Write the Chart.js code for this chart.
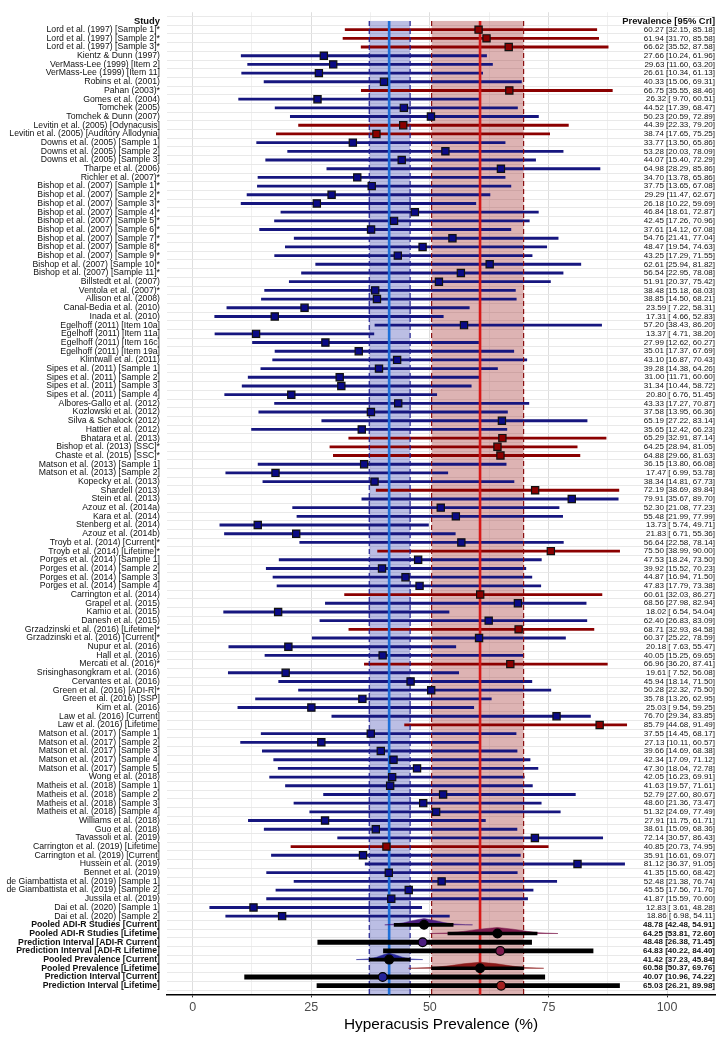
<!DOCTYPE html>
<html>
<head>
<meta charset="utf-8">
<script src="https://cdn.jsdelivr.net/npm/chart.js@4.4.1/dist/chart.umd.min.js"></script>
<style>
  html, body { margin: 0; padding: 0; background: #fff; }
  canvas { display: block; }
</style>
</head>
<body>
<canvas id="forest" width="722" height="1040"></canvas>
<script>
// study rows, top to bottom
const studies = [
  'Lord et al. (1997) [Sample 1]*', 'Lord et al. (1997) [Sample 2]*', 'Lord et al. (1997) [Sample 3]*',
  'Kientz & Dunn (1997)', 'VerMass-Lee (1999) [Item 2]', 'VerMass-Lee (1999) [Item 11]',
  'Robins et al. (2001)', 'Pahan (2003)*', 'Gomes et al. (2004)', 'Tomchek (2005)', 'Tomchek & Dunn (2007)',
  'Levitin et al. (2005) [Odynacusis]', 'Levitin et al. (2005) [Auditory Allodynia]',
  'Downs et al. (2005) [Sample 1]', 'Downs et al. (2005) [Sample 2]', 'Downs et al. (2005) [Sample 3]',
  'Tharpe et al. (2006)', 'Richler et al. (2007)*',
  'Bishop et al. (2007) [Sample 1]*', 'Bishop et al. (2007) [Sample 2]*', 'Bishop et al. (2007) [Sample 3]*',
  'Bishop et al. (2007) [Sample 4]*', 'Bishop et al. (2007) [Sample 5]*', 'Bishop et al. (2007) [Sample 6]*',
  'Bishop et al. (2007) [Sample 7]*', 'Bishop et al. (2007) [Sample 8]*', 'Bishop et al. (2007) [Sample 9]*',
  'Bishop et al. (2007) [Sample 10]*', 'Bishop et al. (2007) [Sample 11]*',
  'Billstedt et al. (2007)', 'Ventola et al. (2007)*', 'Allison et al. (2008)', 'Canal-Bedia et al. (2010)',
  'Inada et al. (2010)', 'Egelhoff (2011) [Item 10a]', 'Egelhoff (2011) [Item 11a]',
  'Egelhoff (2011) [Item 16c]', 'Egelhoff (2011) [Item 19a]', 'Klintwall et al. (2011)',
  'Sipes et al. (2011) [Sample 1]', 'Sipes et al. (2011) [Sample 2]', 'Sipes et al. (2011) [Sample 3]',
  'Sipes et al. (2011) [Sample 4]', 'Albores-Gallo et al. (2012)', 'Kozlowski et al. (2012)',
  'Silva & Schalock (2012)', 'Hattier et al. (2012)', 'Bhatara et al. (2013)',
  'Bishop et al. (2013) [SSC]*', 'Chaste et al. (2015) [SSC]*',
  'Matson et al. (2013) [Sample 1]', 'Matson et al. (2013) [Sample 2]', 'Kopecky et al. (2013)',
  'Shardell (2013)', 'Stein et al. (2013)', 'Azouz et al. (2014a)', 'Kara et al. (2014)',
  'Stenberg et al. (2014)', 'Azouz et al. (2014b)', 'Troyb et al. (2014) [Current]*',
  'Troyb et al. (2014) [Lifetime]*', 'Porges et al. (2014) [Sample 1]', 'Porges et al. (2014) [Sample 2]',
  'Porges et al. (2014) [Sample 3]', 'Porges et al. (2014) [Sample 4]', 'Carrington et al. (2014)',
  'Grapel et al. (2015)', 'Kamio et al. (2015)', 'Danesh et al. (2015)',
  'Grzadzinski et al. (2016) [Lifetime]*', 'Grzadzinski et al. (2016) [Current]*',
  'Nupur et al. (2016)', 'Hall et al. (2016)', 'Mercati et al. (2016)*', 'Srisinghasongkram et al. (2016)',
  'Cervantes et al. (2016)', 'Green et al. (2016) [ADI-R]*', 'Green et al. (2016) [SSP]',
  'Kim et al. (2016)', 'Law et al. (2016) [Current]', 'Law et al. (2016) [Lifetime]',
  'Matson et al. (2017) [Sample 1]', 'Matson et al. (2017) [Sample 2]', 'Matson et al. (2017) [Sample 3]',
  'Matson et al. (2017) [Sample 4]', 'Matson et al. (2017) [Sample 5]', 'Wong et al. (2018)',
  'Matheis et al. (2018) [Sample 1]', 'Matheis et al. (2018) [Sample 2]', 'Matheis et al. (2018) [Sample 3]',
  'Matheis et al. (2018) [Sample 4]', 'Williams et al. (2018)', 'Guo et al. (2018)',
  'Tavassoli et al. (2019)', 'Carrington et al. (2019) [Lifetime]', 'Carrington et al. (2019) [Current]',
  'Hussein et al. (2019)', 'Bennet et al. (2019)', 'de Giambattista et al. (2019) [Sample 1]',
  'de Giambattista et al. (2019) [Sample 2]', 'Jussila et al. (2019)',
  'Dai et al. (2020) [Sample 1]', 'Dai et al. (2020) [Sample 2]'
];
const estimates = [
  60.27, 61.94, 66.62, 27.66, 29.63, 26.61, 40.33, 66.75, 26.32, 44.52, 50.23, 44.39, 38.74,
  33.77, 53.28, 44.07, 64.98, 34.70, 37.75, 29.29, 26.18, 46.84, 42.45, 37.61, 54.76, 48.47,
  43.25, 62.61, 56.54, 51.91, 38.48, 38.85, 23.59, 17.31, 57.20, 13.37, 27.99, 35.01, 43.10,
  39.28, 31.00, 31.34, 20.80, 43.33, 37.58, 65.19, 35.65, 65.29, 64.25, 64.88, 36.15, 17.47,
  38.34, 72.19, 79.91, 52.30, 55.48, 13.73, 21.83, 56.64, 75.50, 47.53, 39.92, 44.87, 47.83,
  60.61, 68.56, 18.02, 62.40, 68.71, 60.37, 20.18, 40.05, 66.96, 19.61, 45.94, 50.28, 35.78,
  25.03, 76.70, 85.79, 37.55, 27.13, 39.66, 42.34, 47.30, 42.05, 41.63, 52.79, 48.60, 51.32,
  27.91, 38.61, 72.14, 40.85, 35.91, 81.12, 41.35, 52.48, 45.55, 41.87, 12.83, 18.86
];
const lowerCrI = [
  32.15, 31.70, 35.52, 10.24, 11.60, 10.34, 15.06, 35.55, 9.70, 17.39, 20.59, 22.33, 17.65,
  13.50, 20.03, 15.40, 28.29, 13.78, 13.65, 11.47, 10.22, 18.61, 17.26, 14.12, 21.41, 19.54,
  17.29, 25.94, 22.95, 20.37, 15.18, 14.50, 7.22, 4.66, 38.43, 4.71, 12.62, 17.37, 16.87,
  14.38, 11.71, 10.44, 6.76, 17.27, 13.95, 27.22, 12.42, 32.91, 28.94, 29.66, 13.80, 6.99,
  14.81, 38.69, 35.67, 21.08, 21.99, 5.74, 6.71, 22.58, 38.99, 18.24, 15.52, 16.94, 17.79,
  32.03, 27.98, 6.54, 26.83, 32.93, 25.22, 7.63, 15.25, 36.20, 7.52, 18.14, 22.32, 13.26,
  9.54, 29.34, 44.68, 14.45, 10.11, 14.69, 17.09, 18.04, 16.23, 19.57, 27.60, 21.36, 24.69,
  11.75, 15.09, 30.57, 20.73, 16.61, 36.37, 15.60, 21.38, 17.56, 15.59, 3.61, 6.98
];
const upperCrI = [
  85.18, 85.58, 87.58, 61.96, 63.20, 61.13, 69.31, 88.46, 60.51, 68.47, 72.89, 79.20, 75.25,
  65.86, 78.09, 72.29, 85.86, 65.86, 67.08, 62.67, 59.69, 72.87, 70.96, 67.08, 77.04, 74.63,
  71.55, 81.82, 78.08, 75.42, 68.03, 68.21, 58.31, 52.83, 86.20, 38.20, 60.27, 67.69, 70.43,
  64.26, 60.60, 58.72, 51.45, 70.87, 66.36, 83.14, 66.23, 87.14, 81.05, 81.63, 66.08, 53.78,
  67.73, 89.84, 89.70, 77.23, 77.99, 49.71, 55.36, 78.14, 90.00, 73.50, 70.23, 71.50, 73.38,
  86.27, 82.94, 54.04, 83.09, 84.58, 78.59, 55.47, 69.65, 87.41, 56.08, 71.50, 75.50, 62.95,
  59.25, 83.85, 91.49, 68.17, 60.57, 68.38, 71.12, 72.78, 69.91, 71.61, 80.67, 73.47, 77.49,
  61.71, 68.36, 86.43, 74.95, 69.07, 91.05, 68.42, 76.74, 71.76, 70.60, 48.28, 54.11
];
// C = current prevalence, L = lifetime prevalence
const measure = [
  'L', 'L', 'L', 'C', 'C', 'C', 'C', 'L', 'C', 'C', 'C', 'L', 'L',
  'C', 'C', 'C', 'C', 'C', 'C', 'C', 'C', 'C', 'C', 'C', 'C', 'C',
  'C', 'C', 'C', 'C', 'C', 'C', 'C', 'C', 'C', 'C', 'C', 'C', 'C',
  'C', 'C', 'C', 'C', 'C', 'C', 'C', 'C', 'L', 'L', 'L', 'C', 'C',
  'C', 'L', 'C', 'C', 'C', 'C', 'C', 'C', 'L', 'C', 'C', 'C', 'C',
  'L', 'C', 'C', 'C', 'L', 'C', 'C', 'C', 'L', 'C', 'C', 'C', 'C',
  'C', 'C', 'L', 'C', 'C', 'C', 'C', 'C', 'C', 'C', 'C', 'C', 'C',
  'C', 'C', 'C', 'L', 'C', 'C', 'C', 'C', 'C', 'C', 'C', 'C'
];

// pooled estimates and prediction intervals
const summaryLabels = [
  'Pooled ADI-R Studies [Current]', 'Pooled ADI-R Studies [Lifetime]',
  'Prediction Interval [ADI-R Current]', 'Prediction Interval [ADI-R Lifetime]',
  'Pooled Prevalence [Current]', 'Pooled Prevalence [Lifetime]',
  'Prediction Interval [Current]', 'Prediction Interval [Lifetime]'
];
const summaryEst = [48.78, 64.25, 48.48, 64.83, 41.42, 60.58, 40.07, 65.03];
const summaryLower = [42.48, 53.81, 26.38, 40.22, 37.23, 50.37, 10.96, 26.21];
const summaryUpper = [54.91, 72.60, 71.45, 84.40, 45.84, 69.76, 74.22, 89.98];
const summaryKind = ['pooled', 'pooled', 'pi', 'pi', 'pooled', 'pooled', 'pi', 'pi'];
const summaryColors = ['#4b1d7e', '#7d1a4d', '#4b1d7e', '#7d1a4d', '#23239a', '#8b1a1a', '#23239a', '#a32020'];

// posterior shapes of the pooled rows: [prevalence, height in rows]
const slabAdirCurrent = [[40.5, 0], [42.5, 0.08], [44.5, 0.24], [46.5, 0.5], [48.8, 0.74], [51, 0.5], [53, 0.26], [55, 0.1], [57.5, 0.02], [59, 0]];
const slabAdirLifetime = [[50, 0], [53.8, 0.07], [57, 0.24], [60.5, 0.5], [64.2, 0.7], [67.5, 0.5], [70.5, 0.25], [73, 0.08], [77, 0]];
const slabCurrent = [[34.5, 0], [37.2, 0.08], [38.8, 0.28], [40.2, 0.55], [41.4, 0.74], [42.7, 0.55], [44.2, 0.28], [45.8, 0.08], [48.5, 0]];
const slabLifetime = [[45.5, 0], [50.4, 0.08], [54, 0.28], [57.5, 0.54], [60.6, 0.7], [63.7, 0.54], [67, 0.28], [69.8, 0.08], [74, 0]];
const slabRows = [104, 105, 108, 109];
const slabColors = ['#4b1d7e', '#7d1a4d', '#23239a', '#8b1a1a'];

// reference bands: [lower, estimate, upper]
const pooledCurrent = [37.23, 41.42, 45.84];
const pooledLifetime = [50.37, 60.58, 69.76];

const xTicks = [0, 12.5, 25, 37.5, 50, 62.5, 75, 87.5, 100];

const FONT = "'Liberation Sans', Arial, sans-serif";
const BLUE_LINE = '#16167f';
const RED_LINE = '#8b0000';

const fmt = v => (v < 10 ? ' ' : '') + v.toFixed(2);
const rowLabels = ['Study', ...studies, ...summaryLabels];
const valueLabels = ['Prevalence [95% CrI]',
  ...estimates.map((e, i) => fmt(e) + ' [' + fmt(lowerCrI[i]) + ', ' + fmt(upperCrI[i]) + ']'),
  ...summaryEst.map((e, i) => fmt(e) + ' [' + fmt(summaryLower[i]) + ', ' + fmt(summaryUpper[i]) + ']')];
const firstSummaryRow = studies.length + 1;
const isBold = i => i === 0 || i >= firstSummaryRow;

const studyBars = studies.map((s, i) => ({ y: i + 1, x: [lowerCrI[i], upperCrI[i]] }));
const studyPoints = studies.map((s, i) => ({ y: i + 1, x: estimates[i] }));
const summaryBars = kind => summaryLabels
  .map((s, i) => ({ y: firstSummaryRow + i, x: [summaryLower[i], summaryUpper[i]] }))
  .filter((d, i) => summaryKind[i] === kind);
const summaryPoints = summaryLabels.map((s, i) => ({ y: firstSummaryRow + i, x: summaryEst[i] }));

const slabData = [slabAdirCurrent, slabAdirLifetime, slabCurrent, slabLifetime].map((pts, k) =>
  pts.map(p => ({ x: p[0], y: slabRows[k] - p[1] })).concat(pts.slice().reverse().map(p => ({ x: p[0], y: slabRows[k] })))
);

const bandPlugin = {
  id: 'bands',
  beforeDatasetsDraw(chart) {
    const { ctx, chartArea, scales: { x, y } } = chart;
    const top = y.getPixelForValue(0), bottom = chartArea.bottom;
    ctx.save();
    [[pooledCurrent, 'rgba(30, 40, 165, 0.3)'], [pooledLifetime, 'rgba(150, 20, 20, 0.32)']].forEach(([b, c]) => {
      const l = x.getPixelForValue(b[0]), r = x.getPixelForValue(b[2]);
      ctx.fillStyle = c;
      ctx.fillRect(l, top, r - l, bottom - top);
    });
    ctx.restore();
  },
  afterDatasetDraw(chart, args) {
    if (args.index !== 0) return;
    const { ctx, chartArea, scales: { x, y } } = chart;
    const top = y.getPixelForValue(0), bottom = chartArea.bottom;
    ctx.save();
    [[pooledCurrent, '#1f1f8f', '#1d6fd8'], [pooledLifetime, '#8b1010', '#d61818']].forEach(([b, dash, solid]) => {
      ctx.strokeStyle = dash;
      ctx.lineWidth = 1.2;
      ctx.setLineDash([5, 3]);
      [b[0], b[2]].forEach(v => {
        const px = x.getPixelForValue(v);
        ctx.beginPath(); ctx.moveTo(px, top); ctx.lineTo(px, bottom); ctx.stroke();
      });
      ctx.setLineDash([]);
      ctx.strokeStyle = solid;
      ctx.lineWidth = 2.6;
      const px = x.getPixelForValue(b[1]);
      ctx.beginPath(); ctx.moveTo(px, top); ctx.lineTo(px, bottom); ctx.stroke();
    });
    ctx.restore();
  }
};

const rowTicks = scale => { scale.ticks = rowLabels.map((l, i) => ({ value: i })); };

new Chart(document.getElementById('forest'), {
  type: 'bar',
  data: {
    datasets: [
      {
        type: 'bar', data: studyBars, order: 6, grouped: false, barThickness: 2.2,
        backgroundColor: measure.map(m => m === 'L' ? RED_LINE : BLUE_LINE), borderWidth: 0
      },
      ...slabData.map((d, k) => ({
        type: 'line', data: d, order: 5, fill: 'shape', showLine: true,
        backgroundColor: slabColors[k], borderColor: slabColors[k], borderWidth: 0.5, pointRadius: 0, tension: 0
      })),
      {
        type: 'bar', data: summaryBars('pooled'), order: 4, grouped: false, barThickness: 3,
        backgroundColor: '#000', borderWidth: 0
      },
      {
        type: 'bar', data: summaryBars('pi'), order: 4, grouped: false, barThickness: 4.2,
        backgroundColor: '#000', borderWidth: 0
      },
      {
        type: 'scatter', data: studyPoints, order: 2, pointStyle: 'rect', radius: 5.1,
        backgroundColor: measure.map(m => m === 'L' ? '#8b0000' : '#0a0a85'),
        borderColor: '#111', borderWidth: 1.2
      },
      {
        type: 'scatter', data: summaryPoints, order: 1, pointStyle: 'circle', radius: 4.4,
        backgroundColor: summaryKind.map((k, i) => k === 'pooled' ? '#000' : summaryColors[i]),
        borderColor: '#000', borderWidth: 1.2
      }
    ]
  },
  options: {
    indexAxis: 'y',
    responsive: false,
    animation: false,
    devicePixelRatio: 1,
    layout: { padding: { top: 4.08, right: 7, bottom: 0, left: 0 } },
    plugins: { legend: { display: false }, tooltip: { enabled: false } },
    scales: {
      x: {
        type: 'linear', min: -5.4, max: 110.1,
        afterFit: s => { s.height = 45.6; },
        afterBuildTicks: s => { s.ticks = xTicks.map(v => ({ value: v })); },
        grid: {
          color: c => c.tick && c.tick.value % 25 === 0 ? '#dedede' : '#ececec',
          lineWidth: c => c.tick && c.tick.value % 25 === 0 ? 1 : 0.8,
          tickColor: c => c.tick && c.tick.value % 25 === 0 ? '#333' : 'rgba(0,0,0,0)',
          tickLength: 3
        },
        border: { display: true, color: '#000', width: 1.6 },
        ticks: {
          autoSkip: false, padding: 4, color: '#4d4d4d',
          font: { family: FONT, size: 12.5, lineHeight: 1 },
          callback: v => v % 25 === 0 ? String(v) : ''
        },
        title: {
          display: true, text: 'Hyperacusis Prevalence (%)', color: '#000',
          font: { family: FONT, size: 15.4, lineHeight: 1.1 }, padding: { top: 0, bottom: 6.5 }
        }
      },
      y: {
        type: 'linear', position: 'left', reverse: true, min: -0.5, max: 111.5,
        afterFit: s => { s.width = 167; },
        afterBuildTicks: rowTicks,
        grid: { color: '#e6e6e6', lineWidth: 0.9, drawTicks: false },
        border: { display: false },
        ticks: {
          autoSkip: false, padding: 7, color: '#111',
          font: c => ({ family: FONT, size: c.index === 0 ? 9.4 : 8.7, weight: isBold(c.index) ? 'bold' : 'normal' }),
          callback: v => rowLabels[v]
        }
      },
      y2: {
        type: 'linear', position: 'right', reverse: true, min: -0.5, max: 111.5,
        afterFit: s => { s.width = 0; },
        afterBuildTicks: rowTicks,
        grid: { display: false, drawTicks: false },
        border: { display: false },
        ticks: {
          autoSkip: false, mirror: true, padding: 0, color: '#111',
          font: c => ({ family: FONT, size: c.index === 0 ? 9.4 : 8, weight: isBold(c.index) ? 'bold' : 'normal' }),
          callback: v => valueLabels[v]
        }
      }
    }
  },
  plugins: [bandPlugin]
});
</script>
</body>
</html>
